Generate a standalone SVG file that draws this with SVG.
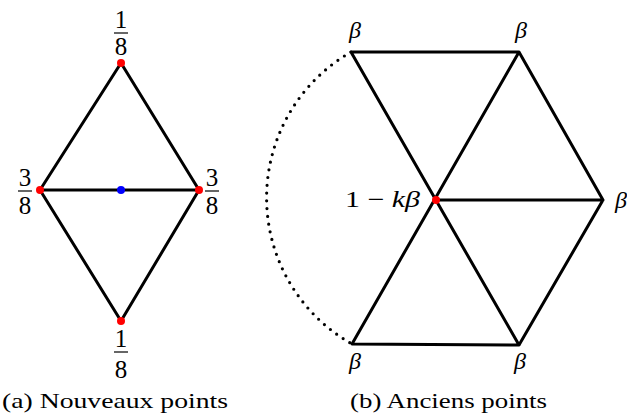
<svg xmlns="http://www.w3.org/2000/svg" width="627" height="418" viewBox="0 0 627 418">
<style>
.e{stroke:#000;stroke-width:3;fill:none;stroke-linecap:round;stroke-linejoin:round}
.bar{stroke:#000;stroke-width:1.2}
</style>
<rect width="627" height="418" fill="#fff"/>
<g id="connectors">
<path class="e" d="M121,63 L40,190 L121,321 L199,190 Z M40,190 L199,190"/>
<path class="e" d="M351,52 L519,52 L603,200 L519,345 L352,344 L519,52 M351,52 L519,345 M436,200 L603,200"/>
<path d="M351,52 A168,168 0 0 0 352,344" fill="none" stroke="#000" stroke-width="3.2" stroke-dasharray="0 7.8" stroke-linecap="round"/>
</g>
<g font-family="Liberation Serif, serif" font-size="25" fill="#000" text-anchor="middle">
<g id="n-top"><circle cx="121" cy="63" r="4" fill="#f00"/>
<text x="121" y="28">1</text><line class="bar" x1="114" y1="33" x2="128" y2="33"/><text x="121" y="55">8</text></g>
<g id="n-left"><circle cx="40" cy="190" r="4" fill="#f00"/>
<text x="25" y="186">3</text><line class="bar" x1="18" y1="191" x2="32" y2="191"/><text x="25" y="214">8</text></g>
<g id="n-right"><circle cx="199" cy="190" r="4" fill="#f00"/>
<text x="212" y="186">3</text><line class="bar" x1="205" y1="191" x2="219" y2="191"/><text x="212" y="214">8</text></g>
<g id="n-bottom"><circle cx="121" cy="321" r="4" fill="#f00"/>
<text x="121" y="347">1</text><line class="bar" x1="114" y1="352" x2="128" y2="352"/><text x="121" y="378">8</text></g>
<g id="n-center"><circle cx="121" cy="190" r="4" fill="#00f"/></g>
<g id="h-center"><circle cx="436" cy="200" r="4" fill="#f00"/>
<text x="345" y="207" text-anchor="start" font-size="23" textLength="75" lengthAdjust="spacingAndGlyphs">1 − <tspan font-style="italic">kβ</tspan></text></g>
<g font-style="italic" font-size="24">
<g id="h-tl"><text x="355" y="38">β</text></g>
<g id="h-tr"><text x="521" y="38">β</text></g>
<g id="h-r"><text x="621" y="208">β</text></g>
<g id="h-br"><text x="520" y="369">β</text></g>
<g id="h-bl"><text x="355" y="369">β</text></g>
</g>
<text x="2" y="408" font-size="21" text-anchor="start" textLength="226" lengthAdjust="spacingAndGlyphs">(a) Nouveaux points</text>
<text x="350" y="408" font-size="21" text-anchor="start" textLength="197" lengthAdjust="spacingAndGlyphs">(b) Anciens points</text>
</g>
</svg>
